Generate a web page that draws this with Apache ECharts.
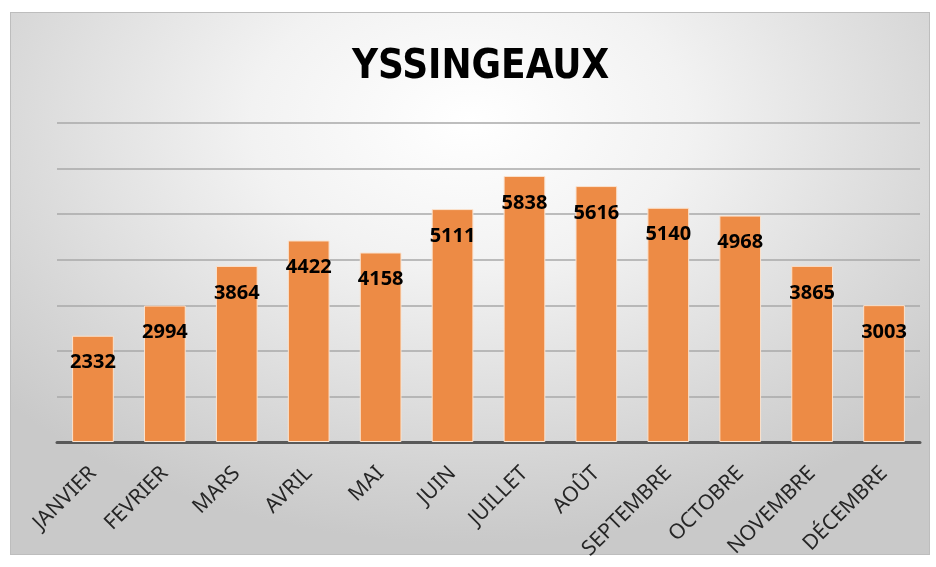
<!DOCTYPE html>
<html>
<head>
<meta charset="utf-8">
<script src="https://cdn.jsdelivr.net/npm/echarts@6/dist/echarts.min.js"></script>
<style>
  html, body { margin: 0; padding: 0; background: #ffffff; }
  #frame {
    position: absolute; left: 10px; top: 12px; width: 918px; height: 541px;
    border: 1px solid #bdbdbd;
    background: radial-gradient(ellipse 68% 78% at 50% 20%, #ffffff 0%, #f2f2f2 35%, #d4d4d4 82%, #c9c9c9 100%);
  }
  #chart { position: absolute; left: 0; top: 0; width: 936px; height: 567px; }
</style>
</head>
<body>
<div id="frame"></div>
<div id="chart"></div>
<script>
// mois et valeurs
var months = ["JANVIER", "FEVRIER", "MARS", "AVRIL", "MAI", "JUIN", "JUILLET", "AOÛT", "SEPTEMBRE", "OCTOBRE", "NOVEMBRE", "DÉCEMBRE"];
var values = [2332, 2994, 3864, 4422, 4158, 5111, 5838, 5616, 5140, 4968, 3865, 3003];
var yMax = 7000;
var yStep = 1000;

var myChart = echarts.init(document.getElementById("chart"), null, {renderer: "canvas"});

var option = {
    backgroundColor: "transparent",
    animation: false,
    title: {
        text: "YSSINGEAUX",
        left: 347,
        top: 43,
        textStyle: {
            fontFamily: "'DejaVu Sans Condensed', 'DejaVu Sans', sans-serif",
            fontWeight: "bold",
            fontSize: 40,
            color: "#000000"
        }
    },
    grid: {
        left: 57,
        right: 16,
        top: 123,
        bottom: 125,
        containLabel: false
    },
    xAxis: {
        type: "category",
        data: months,
        axisTick: {show: false},
        axisLine: {lineStyle: {color: "#595959", width: 3}},
        axisLabel: {
            rotate: 45,
            interval: 0,
            margin: 28,
            fontFamily: "'Noto Sans', sans-serif",
            fontSize: 21,
            color: "#262626"
        }
    },
    yAxis: {
        type: "value",
        min: 0,
        max: yMax,
        interval: yStep,
        axisLabel: {show: false},
        axisLine: {show: false},
        axisTick: {show: false},
        splitLine: {lineStyle: {color: "#a8a8a8", width: 1.5}}
    },
    series: [{
        type: "bar",
        data: values,
        barCategoryGap: "42%",
        itemStyle: {
            color: "#ed8b45",
            borderColor: "#fbe3cf",
            borderWidth: 1
        },
        label: {
            show: true,
            position: "insideTop",
            distance: 17,
            fontFamily: "'Noto Sans', sans-serif",
            fontWeight: "bold",
            fontSize: 20,
            color: "#000000"
        }
    }]
};

myChart.setOption(option);
</script>
</body>
</html>
